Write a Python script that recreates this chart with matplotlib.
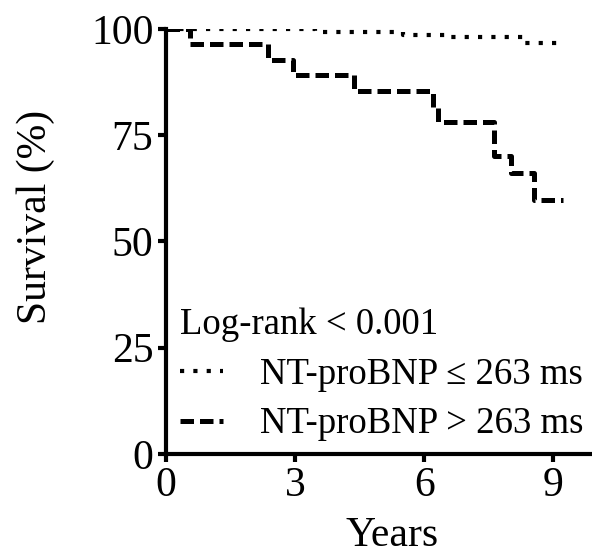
import matplotlib
matplotlib.use('Agg')
import matplotlib.pyplot as plt

plt.rcParams['font.family'] = ['Liberation Serif', 'DejaVu Serif']

# Kaplan-Meier step data (years, survival %)
years_low = [0, 3.47, 5.5, 6.62, 8.3, 9.25]
surv_low = [100, 99.4, 98.6, 98.0, 96.8, 96.8]

years_high = [0, 0.56, 2.38, 2.96, 4.37, 6.2, 6.32, 7.63, 8.02, 8.56, 9.23]
surv_high = [100, 96.5, 92.7, 89.2, 85.5, 81.7, 78.0, 70.1, 66.1, 59.8, 59.8]

label_low = 'NT-proBNP \u2264 263 ms'
label_high = 'NT-proBNP > 263 ms'
legend_title = 'Log-rank < 0.001'

x_ticks = [0, 3, 6, 9]
y_ticks = [0, 25, 50, 75, 100]

fig = plt.figure(figsize=(5.92, 5.54), dpi=100)
ax = fig.add_axes([0.2804, 0.1805, 0.7196, 0.7672])

ax.step(years_low, surv_low, where='post', color='black', lw=3.0,
        linestyle=(0, (1, 2.2)), label=label_low)
ax.step(years_high, surv_high, where='post', color='black', lw=3.6,
        linestyle=(0, (2.7, 1.2)), label=label_high)

ax.set_xlim(0, 9.9)
ax.set_ylim(0, 100)
ax.set_xticks(x_ticks)
ax.set_yticks(y_ticks)

for side in ['top', 'right']:
    ax.spines[side].set_visible(False)
for side in ['left', 'bottom']:
    ax.spines[side].set_linewidth(3)
ax.tick_params(width=3, length=6, labelsize=30, pad=3)

ax.set_xlabel('Years', fontsize=30)
ax.set_ylabel('Survival (%)', fontsize=30)
ax.xaxis.set_label_coords(0.53, -0.146)
ax.yaxis.set_label_coords(-0.26, 0.558)

leg = ax.legend(title=legend_title, loc='upper left', bbox_to_anchor=(0.034, 0.344),
                frameon=False, fontsize=26.5, title_fontsize=26.5, borderpad=0,
                borderaxespad=0, handlelength=1.15, handletextpad=1.0,
                labelspacing=0.41, alignment='left')

fig.savefig('out.png', dpi=100)
